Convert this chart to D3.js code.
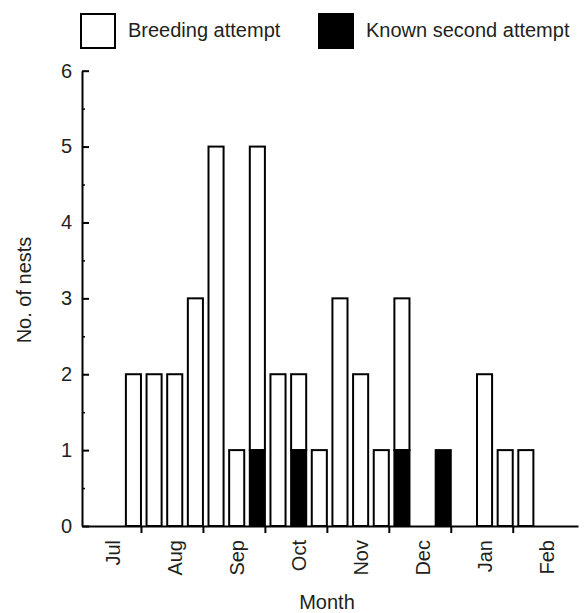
<!DOCTYPE html>
<html>
<head>
<meta charset="utf-8">
<script src="https://cdn.jsdelivr.net/npm/d3@7"></script>
<style>
  body { margin: 0; background: #fff; }
  text { font-family: "Liberation Sans", Arial, Helvetica, sans-serif; fill: #231f20; }
</style>
</head>
<body>
<svg id="chart" width="584" height="613"></svg>
<script>
// months, each split in 3 slots (24 slots, Jul..Feb)
var months = ["Jul", "Aug", "Sep", "Oct", "Nov", "Dec", "Jan", "Feb"];
var slotsPerMonth = 3;
// total nests per slot (breeding attempts)
var totals = [0, 0, 2,  2, 2, 3,  5, 1, 5,  2, 2, 1,  3, 2, 1,  3, 0, 1,  0, 2, 1,  1, 0, 0];
// known second attempts per slot
var second = [0, 0, 0,  0, 0, 0,  0, 0, 1,  0, 1, 0,  0, 0, 0,  1, 0, 1,  0, 0, 0,  0, 0, 0];
var yTicks = [0, 1, 2, 3, 4, 5, 6];
var yMinor = [0.5, 1.5, 2.5, 3.5, 4.5, 5.5];
var legendItems = ["Breeding attempt", "Known second attempt"];

var svg = d3.select("#chart");
var nSlots = months.length * slotsPerMonth;

// y axis sits a little inside the first slot, x axis runs a little past the last
var xStart = 0.145, xEnd = nSlots + 0.16;
var xScale = d3.scaleLinear().domain([xStart, xEnd]).range([82, 578]);
var yScale = d3.scaleLinear().domain([0, 6]).range([526, 70.7]);

var data = totals.map(function(t, i) { return {i: i, total: t, second: second[i]}; });
var barGap = 0.27;

// white part of bars (from top of black part up to total)
svg.append("g").selectAll("rect.white")
  .data(data.filter(function(d) { return d.total > d.second; }))
  .enter().append("rect")
  .attr("x", function(d) { return xScale(d.i + barGap); })
  .attr("width", function(d) { return xScale(d.i + 1) - xScale(d.i + barGap); })
  .attr("y", function(d) { return yScale(d.total); })
  .attr("height", function(d) { return yScale(d.second) - yScale(d.total); })
  .attr("fill", "#fff")
  .attr("stroke", "#000")
  .attr("stroke-width", 2);

// black part
svg.append("g").selectAll("rect.black")
  .data(data.filter(function(d) { return d.second > 0; }))
  .enter().append("rect")
  .attr("x", function(d) { return xScale(d.i + barGap); })
  .attr("width", function(d) { return xScale(d.i + 1) - xScale(d.i + barGap); })
  .attr("y", function(d) { return yScale(d.second); })
  .attr("height", function(d) { return yScale(0) - yScale(d.second); })
  .attr("fill", "#000")
  .attr("stroke", "#000")
  .attr("stroke-width", 2);

// y axis, ticks inside
var yAxis = svg.append("g")
  .attr("transform", "translate(" + xScale(xStart) + ",0)")
  .call(d3.axisLeft(yScale).tickValues(yTicks).tickFormat(d3.format("d"))
    .tickSize(-7).tickSizeOuter(0).tickPadding(10));
yAxis.select(".domain").attr("stroke-width", 2);
yAxis.selectAll(".tick line").attr("stroke-width", 2);
yAxis.selectAll(".tick text").attr("font-size", 20);
yAxis.attr("font-family", null);

svg.append("g")
  .attr("transform", "translate(" + xScale(xStart) + ",0)")
  .call(d3.axisLeft(yScale).tickValues(yMinor).tickFormat("").tickSize(-3).tickSizeOuter(0))
  .call(function(g) { g.select(".domain").remove(); })
  .selectAll(".tick line").attr("stroke-width", 1.5);

// x axis, ticks at month boundaries
var monthBounds = d3.range(1, months.length).map(function(m) { return m * slotsPerMonth; });
var xAxis = svg.append("g")
  .attr("transform", "translate(0," + yScale(0) + ")")
  .call(d3.axisBottom(xScale).tickValues(monthBounds).tickFormat("").tickSize(7).tickSizeOuter(0));
xAxis.select(".domain").attr("stroke-width", 2);
xAxis.selectAll(".tick line").attr("stroke-width", 2);

// month labels, rotated
svg.append("g").selectAll("text.month")
  .data(months)
  .enter().append("text")
  .attr("transform", function(d, m) {
    return "translate(" + (xScale(m * slotsPerMonth + 1.5) + 3) + "," + (yScale(0) + 14) + ") rotate(-90)";
  })
  .attr("text-anchor", "end")
  .attr("dy", "0.35em")
  .attr("font-size", 20)
  .text(function(d) { return d; });

// axis titles
svg.append("text")
  .attr("x", 327).attr("y", 609)
  .attr("text-anchor", "middle")
  .attr("font-size", 20)
  .text("Month");

svg.append("text")
  .attr("transform", "translate(31," + 290 + ") rotate(-90)")
  .attr("text-anchor", "middle")
  .attr("font-size", 20)
  .text("No. of nests");

// legend
var legendX = [81, 319];
var legend = svg.append("g").selectAll("g")
  .data(legendItems)
  .enter().append("g")
  .attr("transform", function(d, i) { return "translate(" + legendX[i] + ",14)"; });
legend.append("rect")
  .attr("width", 34).attr("height", 34)
  .attr("fill", function(d, i) { return i === 0 ? "#fff" : "#000"; })
  .attr("stroke", "#000")
  .attr("stroke-width", 2);
legend.append("text")
  .attr("x", 47).attr("y", 23)
  .attr("font-size", 20)
  .text(function(d) { return d; });
</script>
</body>
</html>
